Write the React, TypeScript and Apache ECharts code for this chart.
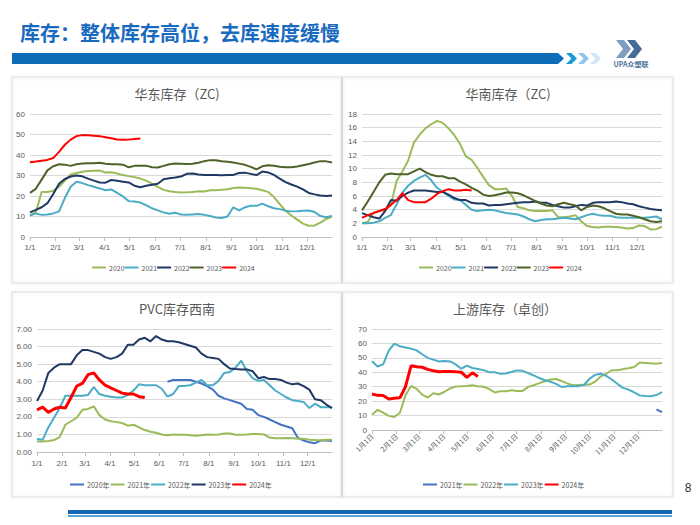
import React, { useEffect, useRef } from 'react';
import * as echarts from 'echarts';

// ---------- axis categories ----------
const MONTH_LENGTHS = [31, 28, 31, 30, 31, 30, 31, 31, 30, 31, 30, 31];
const WEEK_STEP = 7;
const DAYS_SLASH: string[] = [];
const DAYS_CN: string[] = [];
const MONTH_START_INDEX = new Set<number>();
MONTH_LENGTHS.forEach((len, m) => {
  MONTH_START_INDEX.add(DAYS_SLASH.length);
  for (let d = 1; d <= len; d++) {
    DAYS_SLASH.push(`${m + 1}/${d}`);
    DAYS_CN.push(`${m + 1}月${d}日`);
  }
});

// ---------- 华东库存（ZC) weekly ----------
const EAST_2020 = [10.5, 12, 22, 22, 22.5, 24.5, 27.5, 30.5, 31.2, 31.8, 32.2, 32.3, 32.4, 31.5, 31.6, 31, 30.2, 29.7, 29.2, 28.5, 27.5, 26, 24.5, 23, 22.3, 21.9, 21.7, 21.8, 22, 22.3, 22.2, 22.8, 22.8, 23, 23.3, 23.9, 24.2, 24, 23.8, 23.5, 22.8, 22, 19.5, 16, 12.8, 10.5, 8.5, 6.5, 5.5, 5.6, 7, 8.8, 10];
const EAST_2021 = [10.5, 11.5, 10.8, 11, 11.5, 12.5, 19, 24.5, 27, 26.3, 25.3, 24.5, 23.7, 22.8, 23.2, 21.5, 19.8, 17.5, 17.3, 16.8, 15.5, 14, 13, 12, 11.3, 11.8, 11, 10.8, 11, 11.2, 10.8, 10.2, 9.5, 9.3, 10, 14.5, 13, 14.5, 15.2, 15.2, 16.3, 15, 14, 13.6, 12.8, 12.5, 12.6, 12.8, 12.9, 12.2, 10.2, 9.6, 10.3];
const EAST_2022 = [12, 13.2, 14.5, 16.5, 21, 26, 28.3, 29.5, 30, 29.6, 28.5, 27.5, 26.6, 26.5, 27.8, 27.4, 27, 26.6, 25, 24.3, 25, 25.5, 26, 28.2, 28.7, 29, 29.5, 30.8, 31, 30.5, 30.3, 30.3, 30.3, 30.1, 30.3, 30.3, 31.2, 31.4, 30.8, 30.2, 31.9, 31.5, 30.3, 28.5, 26.8, 25.6, 24.6, 23.2, 21.5, 20.8, 20.2, 20, 20.3];
const EAST_2023 = [21.5, 23.5, 28, 32.5, 34.5, 35.5, 35.3, 34.7, 35.5, 35.8, 36, 36, 36.2, 35.7, 35.5, 35.5, 35.3, 34, 34.7, 34.8, 34.8, 34, 33.9, 34.7, 35.5, 35.8, 35.7, 35.6, 35.7, 36.2, 37, 37.5, 37.4, 37, 36.7, 36.3, 35.8, 35.2, 34.2, 33, 34.5, 35, 34.8, 34.3, 34, 34, 34.4, 35, 35.6, 36.3, 37, 36.9, 36.3];
const EAST_2024 = [36.5, 36.8, 37.2, 37.6, 38.5, 41.5, 45, 47.5, 49.2, 49.7, 49.6, 49.4, 49.2, 48.7, 48.2, 47.6, 47.4, 47.5, 47.8, 48.0];

// ---------- 华南库存（ZC) weekly ----------
const SOUTH_2020 = [2.0, 2.2, 3.6, 3.8, 3.9, 4.6, 8.2, 9.6, 11.2, 13.8, 15, 15.9, 16.5, 17, 16.7, 15.9, 14.9, 13.6, 11.8, 11.3, 10.1, 8.8, 7.6, 7.0, 7.0, 7.1, 6.0, 4.4, 4.2, 3.9, 3.8, 3.8, 3.8, 3.9, 2.9, 2.9, 3.0, 3.2, 2.3, 1.6, 1.45, 1.4, 1.5, 1.5, 1.45, 1.4, 1.25, 1.3, 1.7, 1.6, 1.1, 1.15, 1.5];
const SOUTH_2021 = [2.0, 2.0, 2.1, 2.3, 2.8, 3.2, 4.8, 6.5, 7.5, 8.2, 8.7, 9.1, 8.3, 7.2, 6.6, 6.0, 5.5, 5.4, 4.7, 4.0, 3.8, 3.9, 4.0, 3.9, 3.7, 3.5, 3.4, 3.3, 3.0, 2.6, 2.3, 2.5, 2.6, 2.6, 2.7, 2.8, 2.7, 2.6, 2.9, 3.2, 3.4, 3.2, 3.1, 3.1, 2.9, 2.8, 2.8, 2.8, 2.8, 2.8, 2.9, 3.0, 2.6];
const SOUTH_2022 = [3.5, 3.2, 2.9, 2.7, 3.8, 5.4, 5.3, 6.0, 6.5, 6.8, 6.8, 6.8, 6.7, 6.6, 6.6, 6.2, 5.7, 5.4, 5.4, 5.0, 4.9, 4.9, 4.6, 4.7, 4.7, 4.8, 4.9, 5.0, 5.1, 5.1, 5.2, 5.0, 5.0, 4.7, 4.5, 4.3, 4.3, 4.5, 4.7, 4.6, 5.0, 5.1, 5.1, 5.1, 5.2, 5.1, 4.9, 4.8, 4.5, 4.3, 4.1, 4.0, 3.9];
const SOUTH_2023 = [3.9, 5.2, 6.6, 8.0, 9.1, 9.3, 9.2, 9.2, 9.2, 9.6, 10.0, 9.5, 9.1, 8.9, 8.9, 8.6, 8.6, 8.1, 7.7, 7.2, 6.8, 6.2, 6.0, 6.1, 6.3, 6.5, 6.5, 6.4, 6.1, 5.7, 5.3, 4.9, 4.6, 4.5, 4.8, 5.0, 4.8, 4.6, 3.9, 4.4, 4.6, 4.5, 4.2, 3.8, 3.4, 3.3, 3.3, 3.1, 2.9, 2.6, 2.3, 2.2, 2.3];
const SOUTH_2024 = [2.8, 3.2, 3.5, 3.8, 4.1, 4.7, 5.4, 6.4, 5.4, 5.1, 5.1, 5.1, 5.6, 6.3, 6.7, 7.0, 6.8, 6.8, 6.9, 6.8];

// ---------- PVC库存西南 weekly ----------
const PVC_2020 = [null, null, null, null, null, null, null, null, null, null, null, null, null, null, null, null, null, null, null, null, null, null, null, 4.0, 4.1, 4.1, 4.1, 4.1, 4.0, 3.9, 3.75, 3.55, 3.2, 3.05, 2.95, 2.85, 2.75, 2.45, 2.4, 2.1, 2.0, 1.85, 1.7, 1.55, 1.45, 1.35, 0.8, 0.65, 0.55, 0.5, 0.65, 0.65, 0.62];
const PVC_2021 = [0.6, 0.6, 0.62, 0.68, 0.85, 1.55, 1.75, 1.95, 2.4, 2.45, 2.6, 2.1, 1.85, 1.75, 1.7, 1.65, 1.5, 1.55, 1.4, 1.25, 1.15, 1.1, 1.0, 0.95, 1.0, 0.98, 0.98, 0.95, 0.93, 0.95, 1.0, 0.98, 1.0, 1.05, 1.05, 0.98, 0.98, 1.0, 1.03, 1.03, 1.0, 0.82, 0.78, 0.78, 0.8, 0.78, 0.76, 0.75, 0.7, 0.68, 0.67, 0.7, 0.7];
const PVC_2022 = [0.74, 0.7, 1.4, 1.95, 2.5, 3.2, 3.2, 3.2, 3.2, 3.25, 3.7, 3.3, 3.2, 3.15, 3.1, 3.1, 3.25, 3.5, 3.85, 3.8, 3.8, 3.8, 3.6, 3.15, 3.3, 3.75, 3.75, 3.8, 3.95, 4.1, 3.8, 3.8, 4.05, 4.5, 4.55, 4.8, 5.2, 4.6, 4.2, 4.05, 4.1, 3.8, 3.5, 3.3, 3.1, 2.95, 2.9, 2.85, 2.5, 2.75, 2.55, 2.55, 2.55];
const PVC_2023 = [2.9, 3.5, 4.5, 4.8, 5.0, 5.0, 5.0, 5.5, 5.8, 5.8, 5.7, 5.6, 5.4, 5.3, 5.4, 5.6, 6.1, 6.1, 6.4, 6.5, 6.3, 6.6, 6.4, 6.3, 6.3, 6.25, 6.15, 6.05, 5.95, 5.6, 5.4, 5.35, 5.3, 5.0, 4.75, 4.72, 4.7, 4.7, 4.6, 4.2, 4.27, 4.15, 4.15, 4.1, 3.95, 3.85, 3.9, 3.75, 3.55, 3.0, 2.95, 2.7, 2.5];
const PVC_2024 = [2.4, 2.55, 2.25, 2.45, 2.55, 2.5, 3.1, 3.75, 3.9, 4.4, 4.5, 4.1, 3.8, 3.65, 3.5, 3.35, 3.3, 3.3, 3.15, 3.1];

// ---------- 上游库存（卓创） weekly ----------
const UP_2021 = [null, null, null, null, null, null, null, null, null, null, null, null, null, null, null, null, null, null, null, null, null, null, null, null, null, null, null, null, null, null, null, null, null, null, null, null, null, null, null, null, null, null, null, null, null, null, null, null, null, null, null, 14.3, 12.4];
const UP_2022 = [10.6, 14, 12, 9.8, 9, 12, 24, 30.5, 28.5, 24.5, 22.5, 25.5, 24.6, 26.5, 28.8, 30.2, 30.3, 30.5, 31, 30.3, 30, 28.5, 26, 26.8, 26.9, 27.5, 27, 27, 29.9, 31, 32.5, 33.8, 35, 35.3, 34, 32.3, 31, 31.2, 31.4, 31.5, 33.5, 37, 39, 41.4, 41.4, 42.2, 42.8, 43.6, 46.8, 46.5, 46.2, 46, 46.5];
const UP_2023 = [47.7, 44, 45.5, 55, 59.8, 58, 57.2, 56.4, 55.2, 52.5, 50, 48.8, 47.5, 47.8, 47.5, 45.5, 42.5, 44.6, 43, 42.3, 41.5, 40.1, 40.1, 38.9, 39.2, 40.2, 41.3, 41, 39.4, 37.8, 36, 34.5, 33.5, 32, 29.8, 30.3, 30.4, 30.4, 31.2, 35.5, 38.2, 39, 37.5, 35, 32, 29.2, 28, 26, 24, 23.6, 23.4, 24.2, 26.2];
const UP_2024 = [25, 24, 23.9, 21.5, 22, 22.3, 30, 44.5, 43.8, 43.5, 42, 41, 40.4, 40.5, 40.6, 40.3, 40.1, 36.5, 39.6, 37];

const C_LGREEN = '#9bbb59';
const C_CYAN = '#4bacc6';
const C_NAVY = '#1f3864';
const C_OLIVE = '#4f6228';
const C_RED = '#ff0000';
const C_BLUE = '#4472c4';

const toPoints = (vals: (number | null)[], labels: string[]) =>
  vals
    .map((v, i) => (v == null ? null : [labels[i * WEEK_STEP], v]))
    .filter((p) => p !== null);

const line = (name: string, vals: (number | null)[], color: string, idx: number, labels: string[], width = 2) => ({
  type: 'line',
  name,
  xAxisIndex: idx,
  yAxisIndex: idx,
  data: toPoints(vals, labels),
  symbol: 'none',
  showSymbol: false,
  lineStyle: { color, width },
  itemStyle: { color },
  emphasis: { disabled: true },
});

const isStart = (i: number) => MONTH_START_INDEX.has(i);
const GRAY = '#595959';
const FONT = 'Liberation Sans, Noto Sans CJK SC, sans-serif';
const CJK = 'Noto Sans CJK SC, sans-serif';

const xAxis = (gridIndex: number, labels: string[], rotate = 0, margin = 6) => ({
  type: 'category',
  gridIndex,
  data: labels,
  boundaryGap: false,
  axisLine: { lineStyle: { color: '#bfbfbf' } },
  axisTick: { show: true, interval: (i: number) => isStart(i), length: 4, lineStyle: { color: '#bfbfbf' } },
  axisLabel: {
    interval: (i: number) => isStart(i),
    color: GRAY,
    fontSize: rotate ? 7 : 8,
    fontFamily: rotate ? CJK : FONT,
    rotate,
    margin,
  },
  splitLine: { show: false },
});

const yAxis = (gridIndex: number, max: number, interval: number, fmt?: (v: number) => string) => ({
  type: 'value',
  gridIndex,
  min: 0,
  max,
  interval,
  axisLine: { show: false },
  axisTick: { show: false },
  axisLabel: { color: GRAY, fontSize: 8, fontFamily: FONT, margin: 5, formatter: fmt },
  splitLine: { lineStyle: { color: '#d9d9d9', width: 1 } },
});

const legend = (left: number, top: number, names: string[], prefix: string, fontSize: number, gap: number) => ({
  left,
  top,
  data: names.map((n) => prefix + n),
  icon: 'rect',
  itemWidth: 14,
  itemHeight: 2,
  itemGap: gap,
  selectedMode: false,
  padding: 0,
  formatter: (n: string) => n.replace(prefix, ''),
  textStyle: { color: GRAY, fontSize, fontFamily: CJK, padding: [0, 0, 0, -2] },
});

const chevron = (x: number, top: number, h: number, w: number, color: string) => ({
  type: 'polygon',
  shape: {
    points: [
      [x, top],
      [x + w * 0.5, top],
      [x + w, top + h / 2],
      [x + w * 0.5, top + h],
      [x, top + h],
      [x + w * 0.5, top + h / 2],
    ],
  },
  style: { fill: color },
});

const panel = (x: number, y: number, w: number, h: number) => ({
  type: 'rect',
  shape: { x, y, width: w, height: h },
  style: { fill: 'rgba(255,255,255,0)', stroke: '#dcdcdc', lineWidth: 1, shadowBlur: 3, shadowColor: 'rgba(0,0,0,0.10)' },
  z: -1,
});

const chartTitle = (x: number, y: number, text: string) => ({
  type: 'text',
  x,
  y,
  style: { text, fill: GRAY, font: `13px ${CJK}`, align: 'center', verticalAlign: 'middle' },
});

const YEARS_A = ['2020', '2021', '2022', '2023', '2024'];
const YEARS_B = ['2020年', '2021年', '2022年', '2023年', '2024年'];
const YEARS_C = ['2021年', '2022年', '2023年', '2024年'];

const option = {
  animation: false,
  backgroundColor: '#ffffff',
  grid: [
    { left: 30, top: 114, width: 302, height: 123 },
    { left: 362, top: 114, width: 300, height: 123 },
    { left: 37, top: 329, width: 295, height: 123 },
    { left: 372, top: 329, width: 290, height: 101 },
  ],
  xAxis: [xAxis(0, DAYS_SLASH), xAxis(1, DAYS_SLASH), xAxis(2, DAYS_SLASH, 0, 7), xAxis(3, DAYS_CN, 45, 5)],
  yAxis: [
    yAxis(0, 60, 10),
    yAxis(1, 18, 2),
    yAxis(2, 7, 1, (v: number) => v.toFixed(2)),
    yAxis(3, 70, 10),
  ],
  legend: [
    legend(92, 264, YEARS_A, '华东', 7, 0),
    legend(419, 264, YEARS_A, '华南', 7, 0),
    legend(70, 481, YEARS_B, '西南', 7, 1),
    legend(423, 481, YEARS_C, '上游', 7, 1),
  ],
  series: [
    line('华东2020', EAST_2020, C_LGREEN, 0, DAYS_SLASH),
    line('华东2021', EAST_2021, C_CYAN, 0, DAYS_SLASH),
    line('华东2022', EAST_2022, C_NAVY, 0, DAYS_SLASH),
    line('华东2023', EAST_2023, C_OLIVE, 0, DAYS_SLASH),
    line('华东2024', EAST_2024, C_RED, 0, DAYS_SLASH),
    line('华南2020', SOUTH_2020, C_LGREEN, 1, DAYS_SLASH),
    line('华南2021', SOUTH_2021, C_CYAN, 1, DAYS_SLASH),
    line('华南2022', SOUTH_2022, C_NAVY, 1, DAYS_SLASH),
    line('华南2023', SOUTH_2023, C_OLIVE, 1, DAYS_SLASH),
    line('华南2024', SOUTH_2024, C_RED, 1, DAYS_SLASH),
    line('西南2020年', PVC_2020, C_BLUE, 2, DAYS_SLASH),
    line('西南2021年', PVC_2021, C_LGREEN, 2, DAYS_SLASH),
    line('西南2022年', PVC_2022, C_CYAN, 2, DAYS_SLASH),
    line('西南2023年', PVC_2023, C_NAVY, 2, DAYS_SLASH),
    line('西南2024年', PVC_2024, C_RED, 2, DAYS_SLASH, 3),
    line('上游2021年', UP_2021, C_BLUE, 3, DAYS_CN),
    line('上游2022年', UP_2022, C_LGREEN, 3, DAYS_CN),
    line('上游2023年', UP_2023, C_CYAN, 3, DAYS_CN),
    line('上游2024年', UP_2024, C_RED, 3, DAYS_CN, 3),
  ],
  graphic: [
    {
      type: 'text',
      x: 20,
      y: 32,
      style: { text: '库存：整体库存高位，去库速度缓慢', fill: '#1a6bbf', font: `bold 20px ${CJK}`, verticalAlign: 'middle' },
    },
    {
      type: 'polygon',
      shape: { points: [[12, 53], [558, 53], [564, 58.5], [558, 64], [12, 64]] },
      style: { fill: '#0e6cb8' },
    },
    chevron(566, 53, 11, 11, '#1a9ad6'),
    chevron(578, 53, 11, 11, '#94c4ea'),
    chevron(590, 53, 11, 11, '#d3e5f5'),
    {
      type: 'polygon',
      shape: { points: [[616, 40], [624, 40], [631, 49], [624, 58], [616, 58], [623, 49]] },
      style: { fill: '#7d9cc0' },
    },
    {
      type: 'polygon',
      shape: { points: [[627, 40], [635, 40], [642, 49], [635, 58], [627, 58], [634, 49]] },
      style: { fill: '#456b96' },
    },
    {
      type: 'text',
      x: 631,
      y: 64,
      style: { text: 'UPA众塑联', fill: '#4a6f98', font: `bold 7px ${CJK}`, align: 'center', verticalAlign: 'middle' },
    },
    panel(12, 77, 329.5, 206),
    panel(342.5, 77, 330.5, 206),
    panel(12, 292, 329.5, 205),
    panel(342.5, 292, 330.5, 205),
    chartTitle(177, 93, '华东库存（ZC)'),
    chartTitle(508, 93, '华南库存（ZC)'),
    chartTitle(177, 308, 'PVC库存西南'),
    chartTitle(505, 308, '上游库存（卓创）'),
    {
      type: 'text',
      x: 688,
      y: 488,
      style: { text: '8', fill: '#333333', font: `12px ${FONT}`, align: 'center', verticalAlign: 'middle' },
    },
    { type: 'rect', shape: { x: 68, y: 510, width: 604, height: 4 }, style: { fill: '#1566b2' } },
    { type: 'rect', shape: { x: 68, y: 515, width: 604, height: 2 }, style: { fill: '#5aa0d8' } },
  ],
};

export default function App() {
  const ref = useRef<HTMLDivElement>(null);
  useEffect(() => {
    if (!ref.current) return;
    const chart = echarts.init(ref.current, undefined, { renderer: 'svg' });
    chart.setOption(option as any);
    return () => chart.dispose();
  }, []);
  return (
    <div
      ref={ref}
      style={{ position: 'absolute', left: 0, top: 0, width: 700, height: 525, background: '#ffffff' }}
    />
  );
}
